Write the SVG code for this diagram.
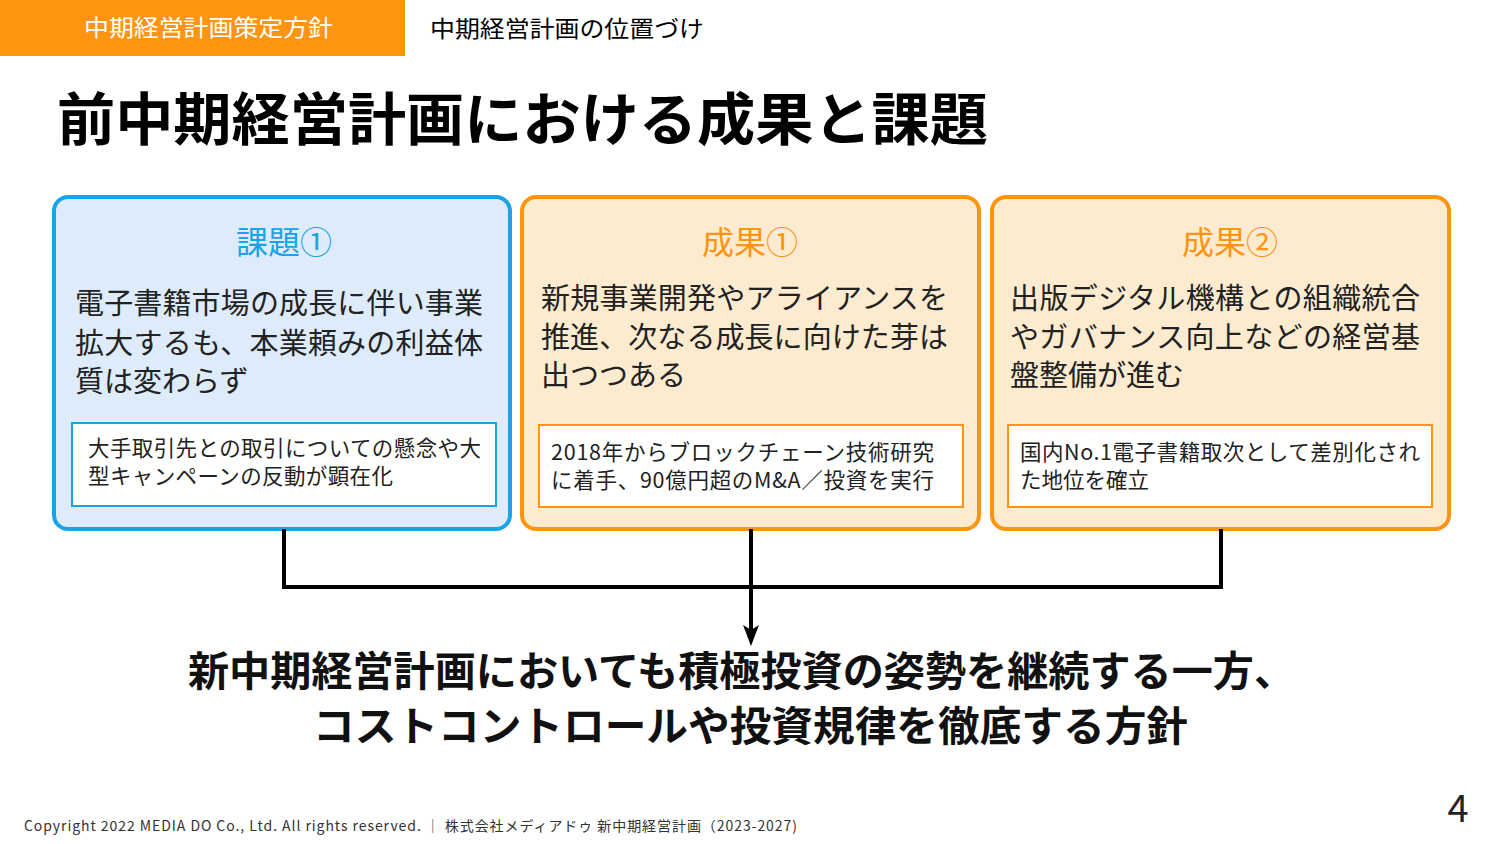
<svg xmlns="http://www.w3.org/2000/svg" width="1500" height="844" viewBox="0 0 1500 844">
<style>
text{font-family:"Noto Sans CJK JP","Noto Sans",sans-serif;}
.card{stroke-width:4;}
.blue{fill:#DDEBFA;stroke:#1AA3E8;}
.orange{fill:#FDEBCF;stroke:#FF9410;}
.inner{fill:#FFFFFF;stroke-width:2;}
.ttl{font-size:32px;text-anchor:middle;}
.body{font-size:29px;fill:#222;}
.small{font-size:21.5px;fill:#222;}
.conn{fill:none;stroke:#000;stroke-width:4;}
</style>
<rect width="1500" height="844" fill="#FFFFFF"/>
<g id="header">
<rect x="0" y="0" width="405" height="56" fill="#FF9410"/>
<text x="84" y="36" font-size="23" fill="#FFFFFF" textLength="249" lengthAdjust="spacingAndGlyphs">中期経営計画策定方針</text>
<text x="430" y="37" font-size="23" fill="#000" textLength="274" lengthAdjust="spacingAndGlyphs">中期経営計画の位置づけ</text>
</g>
<text x="57" y="140" font-size="57" font-weight="bold" fill="#000" textLength="931" lengthAdjust="spacingAndGlyphs">前中期経営計画における成果と課題</text>
<g id="card1">
<rect class="card blue" x="54" y="197" width="456" height="332" rx="14"/>
<text class="ttl" x="284" y="254" fill="#1AA3E8">課題①</text>
<text class="body" x="75" y="314" textLength="408">電子書籍市場の成長に伴い事業</text>
<text class="body" x="75" y="354" textLength="408">拡大するも、本業頼みの利益体</text>
<text class="body" x="75" y="392">質は変わらず</text>
<rect class="inner" x="72" y="423" width="424" height="83" stroke="#1AA3E8"/>
<text class="small" x="88" y="456" textLength="393">大手取引先との取引についての懸念や大</text>
<text class="small" x="88" y="484" textLength="305">型キャンペーンの反動が顕在化</text>
</g>
<g id="card2">
<rect class="card orange" x="522" y="197" width="457" height="332" rx="14"/>
<text class="ttl" x="750" y="254" fill="#FF9410">成果①</text>
<text class="body" x="541" y="309" textLength="407">新規事業開発やアライアンスを</text>
<text class="body" x="541" y="348" textLength="407">推進、次なる成長に向けた芽は</text>
<text class="body" x="541" y="386">出つつある</text>
<rect class="inner" x="539" y="425" width="424" height="82" stroke="#FF9410"/>
<text class="small" x="551" y="460" textLength="383">2018年からブロックチェーン技術研究</text>
<text class="small" x="551" y="488" textLength="383">に着手、90億円超のM&amp;A／投資を実行</text>
</g>
<g id="card3">
<rect class="card orange" x="992" y="197" width="457" height="332" rx="14"/>
<text class="ttl" x="1230" y="254" fill="#FF9410">成果②</text>
<text class="body" x="1010" y="309" textLength="410">出版デジタル機構との組織統合</text>
<text class="body" x="1010" y="348" textLength="410">やガバナンス向上などの経営基</text>
<text class="body" x="1010" y="386">盤整備が進む</text>
<rect class="inner" x="1008" y="425" width="424" height="82" stroke="#FF9410"/>
<text class="small" x="1020" y="460" textLength="400">国内No.1電子書籍取次として差別化され</text>
<text class="small" x="1020" y="488">た地位を確立</text>
</g>
<g id="connectors">
<polyline class="conn" points="284,529 284,587 1221,587 1221,529"/>
<line class="conn" x1="751" y1="529" x2="751" y2="632"/>
<path d="M743,625 L751,630 L759,625 L751,646 Z" fill="#000"/>
</g>
<g id="conclusion">
<text x="188" y="686" font-size="41" font-weight="bold" fill="#111" textLength="1107" lengthAdjust="spacingAndGlyphs">新中期経営計画においても積極投資の姿勢を継続する一方、</text>
<text x="313" y="741" font-size="41" font-weight="bold" fill="#111" textLength="875" lengthAdjust="spacingAndGlyphs">コストコントロールや投資規律を徹底する方針</text>
</g>
<g id="footer">
<text x="24" y="831" font-size="14" fill="#333" textLength="773">Copyright 2022 MEDIA DO Co., Ltd. All rights reserved. ｜ 株式会社メディアドゥ 新中期経営計画（2023-2027)</text>
<text x="1458" y="822" font-size="38" fill="#222" text-anchor="middle">4</text>
</g>
</svg>
